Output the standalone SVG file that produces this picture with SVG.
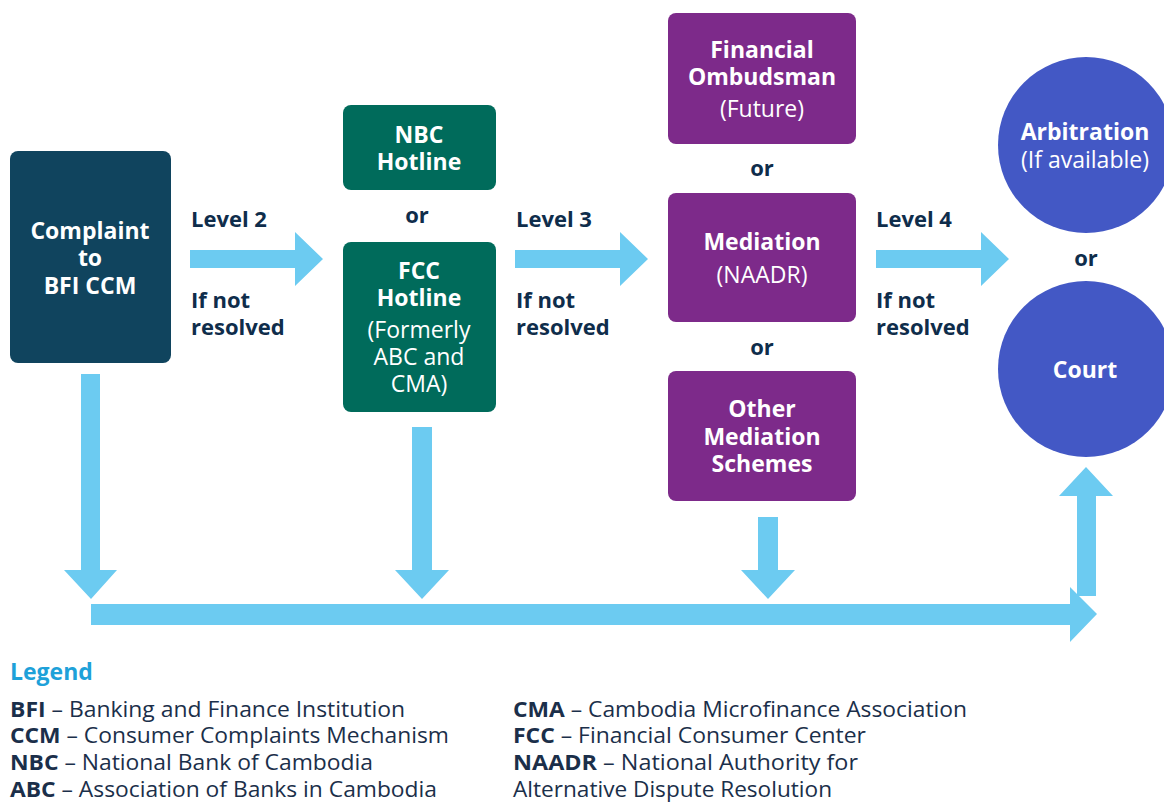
<svg xmlns="http://www.w3.org/2000/svg" width="1164" height="802" viewBox="0 0 1164 802">
<style>
.t{font-family:"Open Sans","Noto Sans","DejaVu Sans",sans-serif;}
.nb{font-weight:700;font-size:23px;fill:#ffffff;text-anchor:middle;}
.nr{font-weight:400;font-size:23px;fill:#ffffff;text-anchor:middle;}
.lb{font-weight:700;font-size:22px;fill:#0f2d4b;}
.or{font-weight:700;font-size:22px;fill:#0f2d4b;text-anchor:middle;}
.lg{font-size:22px;fill:#1b2f4a;}
.lg tspan.k{font-weight:700;}
.arr{fill:#6ccbf1;}
.navy{fill:#10445e;}
.green{fill:#006b5b;}
.purple{fill:#7d2a8a;}
.blue{fill:#4358c5;}
</style>
<rect width="1164" height="802" fill="#ffffff"/>
<g id="connectors">
<polygon class="arr" points="190,250 295,250 295,232 323,259 295,286 295,268 190,268"/>
<polygon class="arr" points="515,250 620,250 620,232 648,259 620,286 620,268 515,268"/>
<polygon class="arr" points="876,250 981,250 981,232 1009,259 981,286 981,268 876,268"/>
<polygon class="arr" points="81,374 100,374 100,570 117,570 91,599 64,570 81,570"/>
<polygon class="arr" points="412,427 432,427 432,570 449,570 422,599 395,570 412,570"/>
<polygon class="arr" points="758,517 778,517 778,570 795,570 768,599 741,570 758,570"/>
<polygon class="arr" points="91,604 1070,604 1070,587 1097,614 1070,642 1070,625 91,625"/>
<polygon class="arr" points="1077,596 1096,596 1096,496 1113,496 1086,467 1059,496 1077,496"/>
</g>
<g id="labels" class="t">
<text class="lb" x="191" y="227">Level 2</text>
<text class="lb" x="191" y="308">If not</text>
<text class="lb" x="191" y="335">resolved</text>
<text class="lb" x="516" y="227">Level 3</text>
<text class="lb" x="516" y="308">If not</text>
<text class="lb" x="516" y="335">resolved</text>
<text class="lb" x="876" y="227">Level 4</text>
<text class="lb" x="876" y="308">If not</text>
<text class="lb" x="876" y="335">resolved</text>
<text class="or" x="417" y="223">or</text>
<text class="or" x="762" y="176">or</text>
<text class="or" x="762" y="355">or</text>
<text class="or" x="1086" y="266">or</text>
</g>
<g id="node-complaint" class="t">
<rect class="navy" x="10" y="151" width="161" height="212" rx="8"/>
<text class="nb" x="90" y="239">Complaint</text>
<text class="nb" x="90" y="266">to</text>
<text class="nb" x="90" y="294">BFI CCM</text>
</g>
<g id="node-nbc" class="t">
<rect class="green" x="343" y="105" width="153" height="85" rx="8"/>
<text class="nb" x="419" y="143">NBC</text>
<text class="nb" x="419" y="170">Hotline</text>
</g>
<g id="node-fcc" class="t">
<rect class="green" x="343" y="242" width="153" height="170" rx="8"/>
<text class="nb" x="419" y="279">FCC</text>
<text class="nb" x="419" y="306">Hotline</text>
<text class="nr" x="419" y="338">(Formerly</text>
<text class="nr" x="419" y="365">ABC and</text>
<text class="nr" x="419" y="392">CMA)</text>
</g>
<g id="node-ombudsman" class="t">
<rect class="purple" x="668" y="13" width="188" height="131" rx="8"/>
<text class="nb" x="762" y="58">Financial</text>
<text class="nb" x="762" y="85">Ombudsman</text>
<text class="nr" x="762" y="117">(Future)</text>
</g>
<g id="node-mediation" class="t">
<rect class="purple" x="668" y="193" width="188" height="129" rx="8"/>
<text class="nb" x="762" y="250">Mediation</text>
<text class="nr" x="762" y="283">(NAADR)</text>
</g>
<g id="node-other" class="t">
<rect class="purple" x="668" y="371" width="188" height="130" rx="8"/>
<text class="nb" x="762" y="417">Other</text>
<text class="nb" x="762" y="445">Mediation</text>
<text class="nb" x="762" y="472">Schemes</text>
</g>
<g id="node-arbitration" class="t">
<circle class="blue" cx="1086" cy="145" r="88"/>
<text class="nb" x="1085" y="140">Arbitration</text>
<text class="nr" x="1085" y="168">(If available)</text>
</g>
<g id="node-court" class="t">
<circle class="blue" cx="1086" cy="369" r="88"/>
<text class="nb" x="1085" y="378">Court</text>
</g>
<g id="legend" class="t">
<text x="10" y="680" style="font-weight:700;font-size:23px;fill:#1ea1d9">Legend</text>
<text class="lg" x="10" y="717" textLength="395" lengthAdjust="spacingAndGlyphs"><tspan class="k">BFI</tspan> – Banking and Finance Institution</text>
<text class="lg" x="10" y="743" textLength="439" lengthAdjust="spacingAndGlyphs"><tspan class="k">CCM</tspan> – Consumer Complaints Mechanism</text>
<text class="lg" x="10" y="770" textLength="363" lengthAdjust="spacingAndGlyphs"><tspan class="k">NBC</tspan> – National Bank of Cambodia</text>
<text class="lg" x="10" y="797" textLength="427" lengthAdjust="spacingAndGlyphs"><tspan class="k">ABC</tspan> – Association of Banks in Cambodia</text>
<text class="lg" x="513" y="717" textLength="454" lengthAdjust="spacingAndGlyphs"><tspan class="k">CMA</tspan> – Cambodia Microfinance Association</text>
<text class="lg" x="513" y="743" textLength="353" lengthAdjust="spacingAndGlyphs"><tspan class="k">FCC</tspan> – Financial Consumer Center</text>
<text class="lg" x="513" y="770" textLength="345" lengthAdjust="spacingAndGlyphs"><tspan class="k">NAADR</tspan> – National Authority  for</text>
<text class="lg" x="513" y="797" textLength="319" lengthAdjust="spacingAndGlyphs">Alternative Dispute Resolution</text>
</g>
</svg>
